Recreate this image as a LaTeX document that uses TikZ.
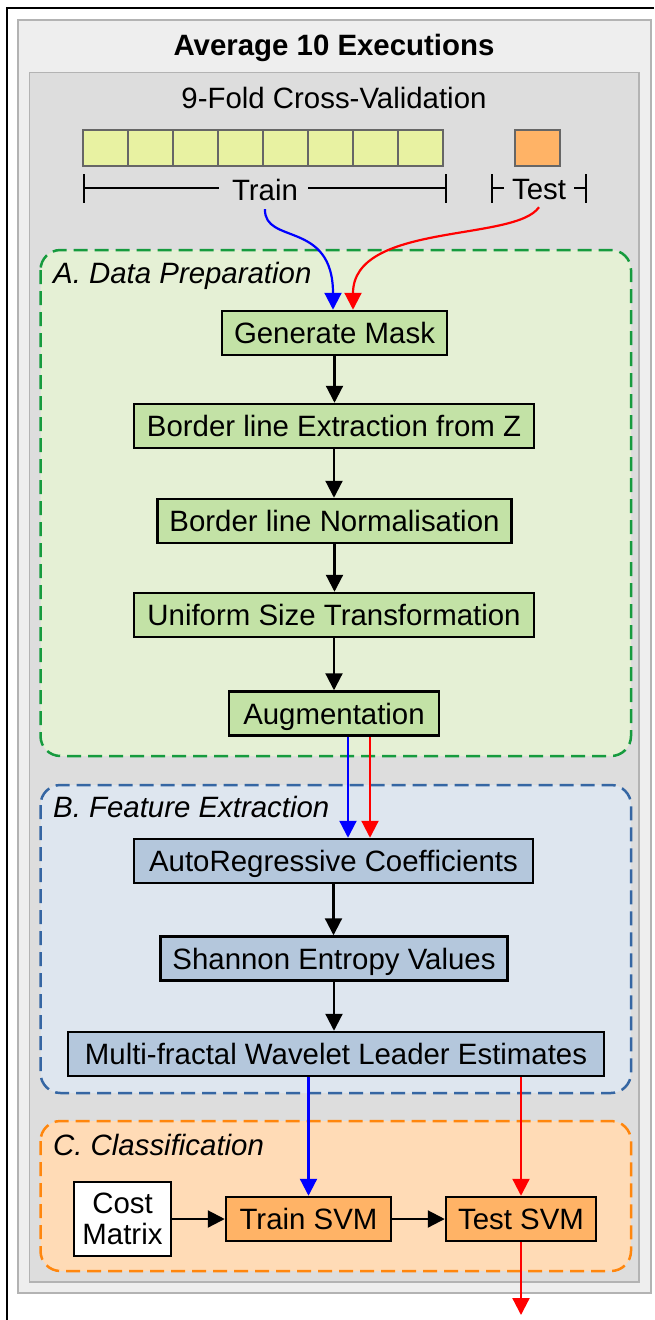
\documentclass[tikz,border=0pt]{standalone}
\usepackage{fontspec}
\setmainfont{Liberation Sans}
\usetikzlibrary{arrows.meta}
\definecolor{outerfill}{HTML}{EEEEEE}
\definecolor{innerfill}{HTML}{DDDDDD}
\definecolor{grayline}{HTML}{B3B3B3}
\definecolor{sqyellow}{HTML}{E8F2A2}
\definecolor{sqline}{HTML}{666666}
\definecolor{orangebox}{HTML}{FFB366}
\definecolor{secAfill}{HTML}{E5F0D5}
\definecolor{secAline}{HTML}{169B3E}
\definecolor{boxgreen}{HTML}{C3E2A6}
\definecolor{secBfill}{HTML}{DEE6EF}
\definecolor{secBline}{HTML}{3566A3}
\definecolor{boxblue}{HTML}{B4C7DC}
\definecolor{secCfill}{HTML}{FFDBB6}
\definecolor{secCline}{HTML}{FF860D}
\tikzset{
  frameline/.style={line width=1.5pt, black},
  greybox/.style={draw=grayline, line width=1.5pt},
  secbox/.style={line width=2.5pt, dash pattern=on 14pt off 7pt, rounded corners=20pt},
  procbox/.style={draw=black, line width=2.5pt, inner sep=0pt, text height=21pt, text depth=0pt, minimum height=44pt},
  lbl/.style={inner sep=0pt, text height=21pt, text depth=0pt},
  seclbl/.style={inner sep=0pt, anchor=base west, font=\fontsize{29.4}{31}\selectfont\itshape},
  bracket/.style={line width=1.8pt, black},
  square/.style={draw=sqline, line width=2.5pt},
  flow/.style={-{Triangle[width=17pt,length=17pt]}, line width=2.2pt},
}
\begin{document}
\begin{tikzpicture}[x=1pt, y=-1pt, font=\fontsize{29.4}{31}\selectfont]
\useasboundingbox (0,0) rectangle (654,1320);
% outer frame
\draw[frameline] (654,8) -- (7,8) -- (7,1320);
% grey boxes
\draw[greybox, fill=outerfill] (18,20) rectangle (651,1293);
\draw[greybox, fill=innerfill] (29.5,72.5) rectangle (639,1282);
\node[lbl, anchor=base, font=\fontsize{29.4}{31}\selectfont\bfseries] (title) at (334,55) {Average 10 Executions};
\node[lbl, anchor=base] (cv) at (334,108) {9-Fold Cross-Validation};
% folds
\foreach \i in {0,...,7} {
  \draw[square, fill=sqyellow] (83+45*\i,130) rectangle +(45,36);
}
\draw[square, fill=orangebox] (515,130) rectangle (560,166);
% brackets
\node[lbl, anchor=base] (train) at (265,200) {Train};
\node[lbl, anchor=base] (test) at (539,199) {Test};
\draw[bracket] (84,174) -- (84,203);
\draw[bracket] (84,188) -- ([xshift=-13pt]train.west |- 0,188);
\draw[bracket] ([xshift=10pt]train.east |- 0,188) -- (446,188);
\draw[bracket] (446,174) -- (446,203);
\draw[bracket] (492,174) -- (492,203);
\draw[bracket] (492,188) -- ([xshift=-8pt]test.west |- 0,188);
\draw[bracket] ([xshift=8pt]test.east |- 0,188) -- (586,188);
\draw[bracket] (586,174) -- (586,203);
% sections
\draw[secbox, draw=secAline, fill=secAfill] (40.5,250) rectangle (631,756);
\draw[secbox, draw=secBline, fill=secBfill] (40.5,785) rectangle (631,1093);
\draw[secbox, draw=secCline, fill=secCfill] (40.5,1121) rectangle (631,1271);
\node[seclbl] (labA) at (53,283) {A. Data Preparation};
\node[seclbl] (labB) at (53,817) {B. Feature Extraction};
\node[seclbl] (labC) at (53,1155) {C. Classification};
% section A
\node[procbox, fill=boxgreen, minimum width=225pt] (gm) at (334.5,333) {Generate Mask};
\node[procbox, fill=boxgreen, minimum width=400pt] (ble) at (334,426) {Border line Extraction from Z};
\node[procbox, fill=boxgreen, minimum width=354pt] (bln) at (334.5,521) {Border line Normalisation};
\node[procbox, fill=boxgreen, minimum width=400pt] (ust) at (334,615) {Uniform Size Transformation};
\node[procbox, fill=boxgreen, minimum width=210pt] (aug) at (334,713.5) {Augmentation};
% section B
\node[procbox, fill=boxblue, minimum width=399pt] (arc) at (333.5,861) {AutoRegressive Coefficients};
\node[procbox, fill=boxblue, minimum width=347pt] (sev) at (334,958.5) {Shannon Entropy Values};
\node[procbox, fill=boxblue, minimum width=536pt] (mwl) at (336,1054) {Multi-fractal Wavelet Leader Estimates};
% section C
\node[draw=black, line width=2.5pt, fill=white, inner sep=0pt, minimum width=97pt, minimum height=74pt, align=center] (cost) at (122.5,1219) {Cost\\Matrix};
\node[procbox, fill=orangebox, minimum width=165pt] (trsvm) at (308.5,1219) {Train SVM};
\node[procbox, fill=orangebox, minimum width=150pt] (tesvm) at (521,1219) {Test SVM};
\coordinate (out) at (521,1315);
% train/test curves
\draw[flow, blue] ([yshift=-9pt]train.south) .. controls (264,245) and (333,220) .. ([xshift=-1.5pt]gm.north);
\draw[flow, red] ([yshift=-8pt]test.south) .. controls (515,242) and (353,222) .. ([xshift=18.5pt]gm.north);
% black flow
\draw[flow] (gm.south) -- (gm.south |- ble.north);
\draw[flow] (ble.south) -- (ble.south |- bln.north);
\draw[flow] (bln.south) -- (bln.south |- ust.north);
\draw[flow] (ust.south) -- (ust.south |- aug.north);
\draw[flow] (arc.south) -- (arc.south |- sev.north);
\draw[flow] (sev.south) -- (sev.south |- mwl.north);
\draw[flow, blue] ([xshift=14pt]aug.south) -- ([xshift=14pt]aug.south |- arc.north);
\draw[flow, red] ([xshift=36pt]aug.south) -- ([xshift=36pt]aug.south |- arc.north);
\draw[flow, blue] (trsvm.north |- mwl.south) -- (trsvm.north);
\draw[flow, red] (tesvm.north |- mwl.south) -- (tesvm.north);
\draw[flow] (cost) -- (trsvm);
\draw[flow] (trsvm) -- (tesvm);
\draw[flow, red] (tesvm.south) -- (out);
\end{tikzpicture}
\end{document}
